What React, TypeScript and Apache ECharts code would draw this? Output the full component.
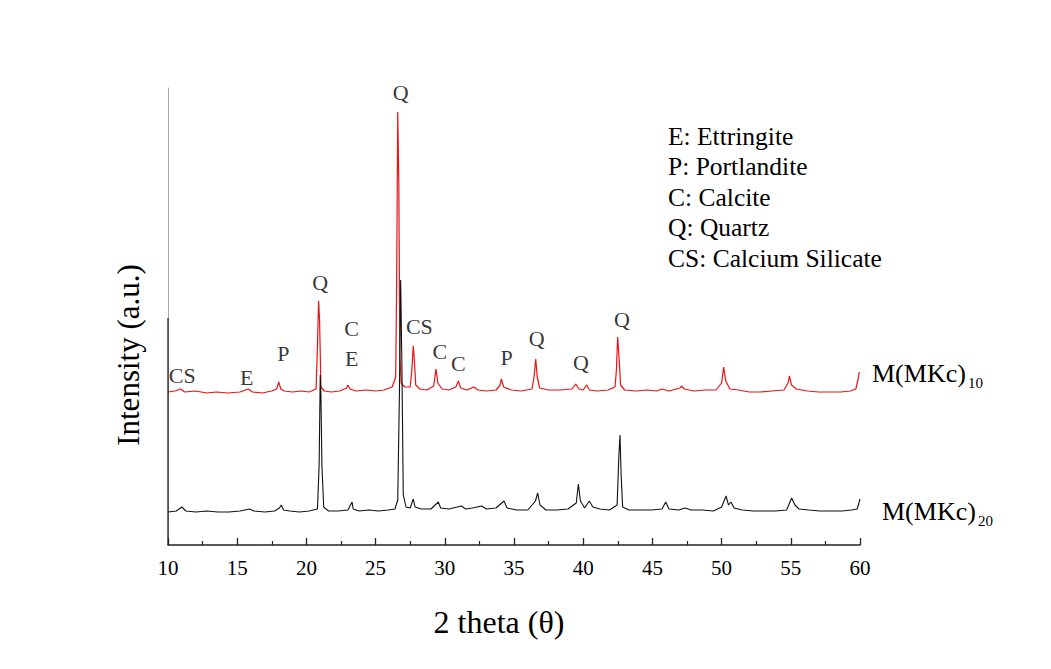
import React, { useEffect, useRef } from "react";
import * as echarts from "echarts";

const FONT = "'Liberation Serif', 'Times New Roman', serif";

// 2θ (degrees) tick range
const X_MIN = 10;
const X_MAX = 60;
const X_INTERVAL = 5;

// Intensity (a.u.), stacked patterns (offset included)
const Y_MIN = 0;
const Y_MAX = 457;

// M(MKc)10 pattern (red, upper)
const mkc10Theta = [
  10.0, 10.5, 10.9, 11.2, 12.0, 12.8, 13.5, 14.3, 15.2, 15.6, 15.8, 16.1, 16.8, 17.5, 17.85, 18.0, 18.15, 18.4,
  19.0, 19.6, 20.2, 20.7, 20.8, 20.88, 20.95, 21.05, 21.3, 21.8, 22.4, 22.9, 23.0, 23.15, 23.6, 24.3, 25.0, 25.6,
  26.2, 26.45, 26.52, 26.6, 26.68, 26.75, 26.85, 27.1, 27.5, 27.62, 27.72, 27.8, 27.9, 28.2, 28.7, 29.2, 29.36,
  29.5, 29.8, 30.3, 30.8, 30.98, 31.15, 31.6, 32.1, 32.4, 33.0, 33.7, 34.0, 34.08, 34.25, 34.8, 35.5, 36.3, 36.45,
  36.57, 36.68, 36.85, 37.5, 38.3, 39.2, 39.46, 39.7, 40.0, 40.25, 40.45, 41.0, 41.8, 42.3, 42.4, 42.49, 42.58,
  42.7, 43.0, 43.8, 44.6, 45.3, 45.7, 46.2, 47.0, 47.1, 47.3, 48.0, 48.8, 49.6, 50.0, 50.15, 50.3, 50.6, 51.2,
  52.0, 52.8, 53.6, 54.5, 54.8, 54.9, 55.05, 55.4, 56.2, 57.0, 57.8, 58.6, 59.3, 59.7, 59.85, 59.95,
];
const mkc10Intensity = [
  153, 154, 156, 153, 154, 152, 153, 152, 153, 155, 156, 153, 152, 154, 156, 163, 156, 154,
  153, 154, 153, 156, 200, 244, 225, 158, 154, 153, 154, 157, 160, 156, 154, 155, 154, 155,
  158, 168, 260, 433, 360, 190, 162, 158, 158, 175, 199, 185, 160, 156, 155, 159, 176,
  162, 156, 155, 158, 164, 157, 155, 158, 155, 154, 155, 160, 166, 158, 155, 154, 156, 168,
  186, 168, 157, 155, 155, 156, 161, 156, 155, 160, 155, 154, 155, 158, 175, 208, 190,
  160, 155, 154, 155, 154, 156, 154, 157, 159, 156, 154, 155, 155, 162, 178, 164, 156, 155,
  153, 153, 154, 155, 162, 169, 160, 156, 154, 153, 153, 153, 154, 156, 165, 173,
];

// M(MKc)20 pattern (black, lower)
const mkc20Theta = [
  10.0, 10.6, 10.99, 11.3, 12.0, 12.8, 13.6, 14.4, 15.2, 15.9, 16.2, 17.0, 17.7, 18.05, 18.19, 18.35, 18.8, 19.5,
  20.2, 20.8, 20.92, 21.0, 21.05, 21.12, 21.25, 21.6, 22.3, 23.0, 23.3, 23.38, 23.8, 24.5, 25.2, 25.9, 26.4, 26.6,
  26.72, 26.81, 26.9, 27.0, 27.2, 27.5, 27.72, 27.85, 28.3, 29.0, 29.53, 29.7, 30.3, 31.2, 31.5, 32.0, 32.66, 33.0,
  33.7, 34.28, 34.5, 35.2, 36.0, 36.55, 36.71, 36.88, 37.3, 38.1, 38.9, 39.5, 39.65, 39.8, 40.1, 40.44, 40.7, 41.2,
  41.9, 42.45, 42.58, 42.66, 42.74, 42.85, 43.3, 44.1, 44.9, 45.7, 45.96, 46.2, 46.9, 47.36, 47.8, 48.6, 49.4, 50.0,
  50.32, 50.5, 50.68, 50.9, 51.5, 52.3, 53.1, 53.9, 54.7, 55.06, 55.3, 55.6, 56.3, 57.1, 57.9, 58.7, 59.4, 59.8, 60.0,
];
const mkc20Intensity = [
  33, 34, 38, 34, 33, 34, 33, 33, 34, 36, 34, 33, 34, 37, 40, 35, 34, 33,
  34, 36, 80, 170, 150, 80, 38, 34, 34, 35, 43, 36, 34, 35, 34, 35, 36, 45,
  150, 265, 180, 50, 38, 37, 46, 38, 36, 36, 43, 37, 36, 39, 36, 37, 39, 36,
  37, 44, 37, 35, 35, 44, 52, 40, 35, 35, 36, 42, 61, 44, 37, 44, 38, 36,
  35, 40, 90, 110, 70, 38, 35, 35, 35, 36, 43, 36, 35, 37, 35, 35, 34, 38,
  49, 40, 43, 37, 35, 34, 34, 34, 35, 47, 40, 36, 35, 34, 34, 34, 35, 36, 46,
];

// Phase annotations: [2θ, intensity position, label]
const peakLabelTheta = [11.03, 15.69, 18.33, 21.0, 23.27, 23.27, 26.81, 28.16, 29.65, 30.98, 34.47, 36.64, 39.84, 42.8];
const peakLabelY = [170, 168, 192, 263, 217, 187, 453, 219, 194, 182, 188, 207, 183, 226];
const peakLabelText = ["CS", "E", "P", "Q", "C", "E", "Q", "CS", "C", "C", "P", "Q", "Q", "Q"];

const phaseKey = ["E: Ettringite", "P: Portlandite", "C: Calcite", "Q: Quartz", "CS: Calcium Silicate"];

const seriesNames = ["M(MKc)", "M(MKc)"];
const seriesSubs = ["10", "20"];

const xAxisTitle = "2 theta (\u03b8)";
const yAxisTitle = "Intensity (a.u.)";

export default function App() {
  const ref = useRef<HTMLDivElement>(null);

  useEffect(() => {
    document.body.style.margin = "0";
    if (!ref.current) return;
    const chart = echarts.init(ref.current, undefined, { renderer: "svg" });

    const red = mkc10Theta.map((t, i) => [t, mkc10Intensity[i]]);
    const black = mkc20Theta.map((t, i) => [t, mkc20Intensity[i]]);
    const labels = peakLabelTheta.map((t, i) => [t, peakLabelY[i], peakLabelText[i]]);

    const graphic: any[] = [];
    // lower (darker) part of the left frame
    graphic.push({
      type: "line",
      shape: { x1: 168, y1: 318, x2: 168, y2: 545 },
      style: { stroke: "#222", lineWidth: 1.3 },
      z: 10,
    });
    phaseKey.forEach((s, i) => {
      graphic.push({
        type: "text",
        x: 668,
        y: 136 + i * 30.6,
        style: { text: s, font: `25.5px ${FONT}`, fill: "#000", textVerticalAlign: "middle" },
      });
    });
    const nameX = [872, 882];
    const nameY = [373, 511];
    seriesNames.forEach((s, i) => {
      graphic.push({
        type: "text",
        x: nameX[i],
        y: nameY[i],
        style: { text: s, font: `26px ${FONT}`, fill: "#000", textVerticalAlign: "middle" },
      });
      graphic.push({
        type: "text",
        x: nameX[i] + 96,
        y: nameY[i] + 10,
        style: { text: seriesSubs[i], font: `15px ${FONT}`, fill: "#000", textVerticalAlign: "middle" },
      });
    });
    graphic.push({
      type: "text",
      x: 499,
      y: 622,
      style: { text: xAxisTitle, font: `32px ${FONT}`, fill: "#000", textAlign: "center", textVerticalAlign: "middle" },
    });
    graphic.push({
      type: "text",
      x: 128,
      y: 355,
      rotation: Math.PI / 2,
      style: { text: yAxisTitle, font: `31px ${FONT}`, fill: "#000", textAlign: "center", textVerticalAlign: "middle" },
    });

    chart.setOption({
      animation: false,
      backgroundColor: "#fff",
      grid: { left: 168, right: 191, top: 88, bottom: 124, containLabel: false },
      xAxis: {
        type: "value",
        min: X_MIN,
        max: X_MAX,
        interval: X_INTERVAL,
        axisLine: { show: true, onZero: false, lineStyle: { color: "#222", width: 1.5 } },
        axisTick: { show: true, inside: true, length: 7, lineStyle: { color: "#222", width: 1.3 } },
        minorTick: { show: true, splitNumber: 2, length: 4, lineStyle: { color: "#222", width: 1.2 } },
        axisLabel: { color: "#000", fontFamily: FONT, fontSize: 21, margin: 12 },
        splitLine: { show: false },
      },
      yAxis: {
        type: "value",
        min: Y_MIN,
        max: Y_MAX,
        axisLine: { show: true, lineStyle: { color: "#aaa", width: 1 } },
        axisTick: { show: false },
        axisLabel: { show: false },
        splitLine: { show: false },
      },
      series: [
        {
          name: "M(MKc)10",
          type: "line",
          data: red,
          showSymbol: false,
          lineStyle: { color: "#ee1111", width: 1.2 },
          z: 3,
        },
        {
          name: "M(MKc)20",
          type: "line",
          data: black,
          showSymbol: false,
          lineStyle: { color: "#111", width: 1.1 },
          z: 4,
        },
        {
          name: "labels",
          type: "scatter",
          data: labels,
          symbolSize: 0.1,
          itemStyle: { color: "transparent" },
          label: {
            show: true,
            position: "inside",
            formatter: (p: any) => p.data[2],
            color: "#000",
            fontFamily: FONT,
            fontSize: 22,
          },
          z: 5,
        },
      ],
      graphic,
    });

    return () => chart.dispose();
  }, []);

  return <div ref={ref} style={{ width: 1051, height: 669 }} />;
}
